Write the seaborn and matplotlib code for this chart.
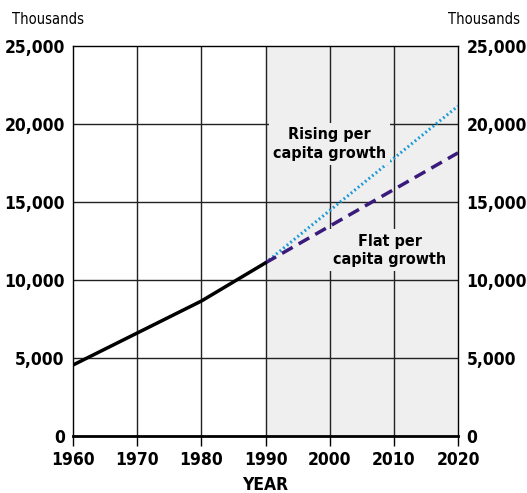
import matplotlib
matplotlib.use('Agg')
import matplotlib.pyplot as plt
import seaborn as sns
import pandas as pd

years_hist = [1960, 1970, 1980, 1990]
pop_hist = [4550, 6600, 8650, 11100]
years_proj = [1990, 2020]
pop_rising = [11100, 21150]
pop_flat = [11100, 18150]
yticks = [0, 5000, 10000, 15000, 20000, 25000]
xticks = [1960, 1970, 1980, 1990, 2000, 2010, 2020]

sns.set_theme(style='white')
plt.rcParams['font.family'] = ['DejaVu Sans']
plt.rcParams['font.stretch'] = 'condensed'
plt.rcParams['font.weight'] = 'bold'
plt.rcParams['text.color'] = 'black'
plt.rcParams['xtick.color'] = 'black'
plt.rcParams['ytick.color'] = 'black'
plt.rcParams['axes.labelcolor'] = 'black'

fig = plt.figure(figsize=(5.27, 4.93), dpi=100)
ax = fig.add_axes([73 / 527, 57 / 493, 385 / 527, 390 / 493])

ax.axvspan(1990, 2020, color='#efefef', zorder=0)
for x in xticks[1:-1]:
    ax.axvline(x, color='#222222', lw=1, zorder=1)
for y in yticks[1:-1]:
    ax.axhline(y, color='#222222', lw=1, zorder=1)

hist = pd.DataFrame({'year': years_hist, 'pop': pop_hist})
proj = pd.DataFrame({'year': years_proj, 'rising': pop_rising, 'flat': pop_flat})
sns.lineplot(data=hist, x='year', y='pop', ax=ax, color='black', lw=2.5, zorder=4)
sns.lineplot(data=proj, x='year', y='rising', ax=ax, color='#1a9ad6', lw=2.2,
             linestyle=(0, (0.6, 0.9)), zorder=3)
sns.lineplot(data=proj, x='year', y='flat', ax=ax, color='#3a1a7a', lw=2.5,
             linestyle=(0, (3.5, 2)), zorder=3)

ax.set_xlim(1960, 2020)
ax.set_ylim(0, 25000)
ax.set_xticks(xticks)
ax.set_yticks(yticks)
ax.set_yticklabels([f'{v:,}' for v in yticks])
ax.tick_params(axis='x', length=7, width=1, color='black', direction='out',
               labelsize=12.5, pad=4, bottom=True)
ax.tick_params(axis='y', length=0, labelsize=12.5, pad=6)
ax.set_xlabel('YEAR', fontsize=12.5, fontweight='bold', labelpad=5)
ax.set_ylabel('')
for s in ax.spines.values():
    s.set_color('black')
    s.set_linewidth(1)
ax.spines['bottom'].set_linewidth(2)

ax2 = ax.twinx()
ax2.set_ylim(0, 25000)
ax2.set_yticks(yticks)
ax2.set_yticklabels([f'{v:,}' for v in yticks])
ax2.tick_params(axis='y', length=0, labelsize=12.5, pad=6)
for s in ax2.spines.values():
    s.set_visible(False)

fig.text(12 / 527, 1 - 20 / 493, 'Thousands', fontsize=10.5, fontweight='normal',
         ha='left', va='center')
fig.text(520 / 527, 1 - 20 / 493, 'Thousands', fontsize=10.5, fontweight='normal',
         ha='right', va='center')

ax.text(2000.0, 18700, 'Rising per\ncapita growth', ha='center', va='center',
        fontsize=11.5, fontweight='bold', linespacing=1.3, zorder=5,
        bbox=dict(facecolor='#efefef', edgecolor='none', pad=3))
ax.text(2009.4, 11900, 'Flat per\ncapita growth', ha='center', va='center',
        fontsize=11.5, fontweight='bold', linespacing=1.3, zorder=5,
        bbox=dict(facecolor='#efefef', edgecolor='none', pad=3))

fig.savefig('out.png', dpi=100)
